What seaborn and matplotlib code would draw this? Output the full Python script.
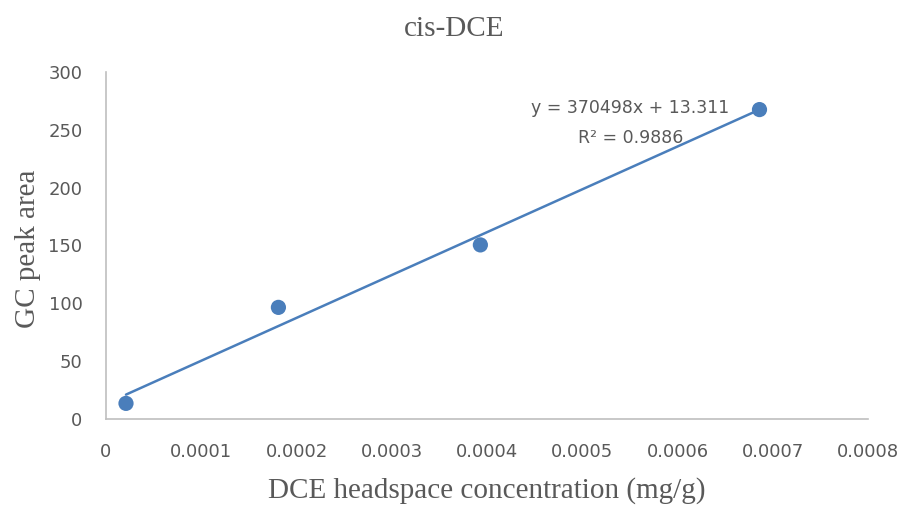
import numpy as np
import pandas as pd
import seaborn as sns
import matplotlib
matplotlib.use("Agg")
import matplotlib.pyplot as plt

conc = [0.000021, 0.000181, 0.000393, 0.000686]
area = [13.5, 96.5, 150.5, 267.5]
slope = 370498
intercept = 13.311
r2 = 0.9886
xticks = [0, 0.0001, 0.0002, 0.0003, 0.0004, 0.0005, 0.0006, 0.0007, 0.0008]
xticklabels = ["0", "0.0001", "0.0002", "0.0003", "0.0004", "0.0005", "0.0006", "0.0007", "0.0008"]
yticks = [0, 50, 100, 150, 200, 250, 300]

sns.set_theme(style="white")
df = pd.DataFrame({"conc": conc, "area": area})

fig = plt.figure(figsize=(9.09, 5.08), dpi=100)
ax = fig.add_axes([0.1166, 0.1752, 0.8384, 0.6831])

blue = "#4a7ebb"
xs = np.array([min(conc), max(conc)])
fit = pd.DataFrame({"x": xs, "y": slope * xs + intercept})
sns.lineplot(data=fit, x="x", y="y", ax=ax, color=blue, linewidth=1.8, zorder=2)
sns.scatterplot(data=df, x="conc", y="area", ax=ax, color=blue, s=120, edgecolor="none", zorder=3)

ax.set_xlim(0, 0.0008)
ax.set_ylim(0, 300)
ax.set_xticks(xticks)
ax.set_xticklabels(xticklabels)
ax.set_yticks(yticks)
for lab in ax.get_xticklabels() + ax.get_yticklabels():
    lab.set_fontfamily("DejaVu Sans")
    lab.set_fontsize(13)
    lab.set_color("#595959")
ax.tick_params(axis="both", length=0)
ax.tick_params(axis="x", pad=17)
ax.tick_params(axis="y", pad=17)

for s in ["top", "right"]:
    ax.spines[s].set_visible(False)
for s in ["left", "bottom"]:
    ax.spines[s].set_color("#bfbfbf")
    ax.spines[s].set_linewidth(1.2)

ax.set_xlabel("DCE headspace concentration (mg/g)", fontfamily="Liberation Serif",
              fontsize=21, color="#595959", labelpad=12)
ax.set_ylabel("GC peak area", fontfamily="Liberation Serif", fontsize=21,
              color="#595959")
ax.yaxis.set_label_coords(-0.085, 0.49)
fig.text(0.5, 0.943, "cis-DCE", ha="center", va="center",
         fontfamily="Liberation Serif", fontsize=21, color="#595959")

eq_font = dict(fontfamily="DejaVu Sans", fontsize=12.5, color="#595959", ha="center", va="center")
ax.text(0.000550, 269, f"y = {slope}x + {intercept}", **eq_font)
ax.text(0.000551, 243, f"R² = {r2}", **eq_font)

fig.savefig("out.png", dpi=100)
